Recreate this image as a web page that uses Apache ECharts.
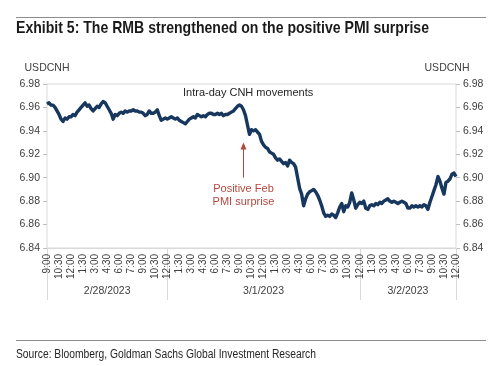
<!DOCTYPE html>
<html>
<head>
<meta charset="utf-8">
<script src="https://cdn.jsdelivr.net/npm/echarts@6/dist/echarts.min.js"></script>
<style>
html,body{margin:0;padding:0;background:#fff;}
#c{width:500px;height:366px;}
</style>
</head>
<body>
<div id="c"></div>
<script>
// 15-minute USDCNH quotes, 2/28/2023 9:00 to 3/2/2023 12:00 (one row per 1.5 hours)
const usdcnh = [
  6.963, 6.964, 6.962, 6.962, 6.960, 6.957,
  6.954, 6.950, 6.948, 6.951, 6.950, 6.952,
  6.952, 6.954, 6.953, 6.956, 6.958, 6.960,
  6.962, 6.964, 6.961, 6.962, 6.959, 6.957,
  6.959, 6.961, 6.960, 6.963, 6.965, 6.964,
  6.961, 6.958, 6.955, 6.950, 6.954, 6.953,
  6.955, 6.956, 6.955, 6.957, 6.956, 6.957,
  6.957, 6.958, 6.957, 6.957, 6.956, 6.956,
  6.955, 6.953, 6.954, 6.957, 6.955, 6.955,
  6.956, 6.958, 6.953, 6.949, 6.950, 6.951,
  6.950, 6.951, 6.952, 6.951, 6.950, 6.951,
  6.949, 6.948, 6.947, 6.946, 6.948, 6.950,
  6.951, 6.952, 6.951, 6.954, 6.953, 6.952,
  6.953, 6.952, 6.954, 6.955, 6.955, 6.954,
  6.954, 6.955, 6.954, 6.955, 6.953, 6.954,
  6.954, 6.955, 6.956, 6.957, 6.959, 6.961,
  6.962, 6.961, 6.958, 6.953, 6.945, 6.937,
  6.941, 6.940, 6.941, 6.939, 6.937, 6.931,
  6.928, 6.926, 6.925, 6.922, 6.921, 6.920,
  6.917, 6.915, 6.916, 6.914, 6.912, 6.913,
  6.910, 6.915, 6.913, 6.912, 6.909, 6.900,
  6.891, 6.886, 6.876, 6.882, 6.886, 6.888,
  6.889, 6.890, 6.888, 6.885, 6.881, 6.876,
  6.870, 6.867, 6.868, 6.867, 6.869, 6.868,
  6.866, 6.870, 6.875, 6.878, 6.871, 6.876,
  6.875, 6.879, 6.887, 6.881, 6.874, 6.877,
  6.879, 6.878, 6.880, 6.874, 6.873, 6.876,
  6.877, 6.876, 6.878, 6.877, 6.879, 6.878,
  6.880, 6.881, 6.882, 6.880, 6.879, 6.880,
  6.879, 6.878, 6.879, 6.880, 6.879, 6.878,
  6.874, 6.874, 6.876, 6.875, 6.876, 6.875,
  6.876, 6.875, 6.877, 6.876, 6.873, 6.879,
  6.884, 6.889, 6.894, 6.901, 6.897, 6.891,
  6.886, 6.896, 6.897, 6.899, 6.903, 6.904,
  6.901
];
const tickLabels = ['9:00','10:30','12:00','1:30','3:00','4:30','6:00','7:30','9:00','10:30',
  '12:00','1:30','3:00','4:30','6:00','7:30','9:00','10:30','12:00','1:30','3:00','4:30','6:00','7:30','9:00','10:30',
  '12:00','1:30','3:00','4:30','6:00','7:30','9:00','10:30','12:00'];
const dayLabels = ['2/28/2023','3/1/2023','3/2/2023'];
const dayBounds = [0, 60, 156, 204]; // category indices where days start/end
const pmiIndex = 98;                 // 3/1 9:30 release
const yTicks = [6.84, 6.86, 6.88, 6.90, 6.92, 6.94, 6.96, 6.98];

const titleText = 'Exhibit 5: The RMB strengthened on the positive PMI surprise';
const sourceText = 'Source: Bloomberg, Goldman Sachs Global Investment Research';

const categories = usdcnh.map((_, i) => 'p' + i);
const dayMids = dayLabels.map((_, k) => Math.round((dayBounds[k] + dayBounds[k + 1]) / 2));

const lab = '"Liberation Sans", Arial, sans-serif';
const axisTxt = '#404040';

// condensed look: shrink regular Arial-metric text horizontally to the reference width
const mctx = document.createElement('canvas').getContext('2d');
function squeeze(text, font, targetW) {
  mctx.font = font;
  return targetW / mctx.measureText(text).width;
}
const titleFont = 'bold 17px ' + lab;
const sourceFont = '12.5px ' + lab;
const titleScale = squeeze(titleText, titleFont, 413);
const sourceScale = squeeze(sourceText, sourceFont, 300);

const chart = echarts.init(document.getElementById('c'), null, {renderer: 'canvas'});
const yAxisBase = {
  type: 'value', min: yTicks[0], max: yTicks[yTicks.length - 1], interval: 0.02,
  axisLine: {show: false},
  axisTick: {show: true, length: 4, lineStyle: {color: '#bfbfbf'}},
  splitLine: {show: false},
  axisLabel: {color: axisTxt, fontFamily: lab, fontSize: 10.5, margin: 7, formatter: v => v.toFixed(2)}
};
chart.setOption({
  animation: false,
  grid: {left: 47, right: 44, top: 84, bottom: 118, show: true, borderColor: '#d9d9d9', borderWidth: 1},
  xAxis: [{
    type: 'category', data: categories, boundaryGap: false,
    axisLine: {show: true, lineStyle: {color: '#d9d9d9'}},
    axisTick: {show: true, length: 52, interval: (i) => dayBounds.includes(i), lineStyle: {color: '#d9d9d9'}},
    axisLabel: {interval: 5, rotate: 90, margin: 6, color: axisTxt, fontFamily: lab, fontSize: 10,
      formatter: (v, i) => tickLabels[Math.round(i / 6)]}
  }, {
    type: 'category', data: categories, boundaryGap: false, position: 'bottom', offset: 32,
    axisLine: {show: false}, axisTick: {show: false},
    axisLabel: {interval: (i) => dayMids.includes(i), color: axisTxt, fontFamily: lab, fontSize: 10.5, margin: 6,
      formatter: (v, i) => dayLabels[dayMids.indexOf(i)]}
  }],
  yAxis: [Object.assign({}, yAxisBase, {position: 'left'}), Object.assign({}, yAxisBase, {position: 'right'})],
  series: [{
    type: 'line', data: usdcnh, xAxisIndex: 0, yAxisIndex: 0,
    showSymbol: false, symbol: 'none',
    lineStyle: {color: '#17375e', width: 3.4, join: 'round'},
    markLine: {
      silent: true, symbol: ['none', 'triangle'], symbolSize: [6, 7],
      lineStyle: {color: '#b5473f', width: 1, type: 'solid'},
      label: {show: false},
      data: [[{coord: [pmiIndex, 6.900]}, {coord: [pmiIndex, 6.927]}]]
    },
    markPoint: {
      silent: true, symbol: 'rect', symbolSize: 1, itemStyle: {color: 'rgba(0,0,0,0)'},
      label: {show: true, position: 'inside', color: '#b5473f', fontFamily: lab, fontSize: 11, lineHeight: 13,
        formatter: 'Positive Feb\nPMI surprise'},
      data: [{coord: [pmiIndex, 6.885]}]
    }
  }],
  graphic: [
    {type: 'line', shape: {x1: 16, y1: 17.5, x2: 486, y2: 17.5}, style: {stroke: '#8c8c8c', lineWidth: 1}},
    {type: 'text', x: 16, y: 28, scaleX: titleScale, style: {text: titleText, x: 0, y: 0,
      font: titleFont, fill: '#1a1a1a', verticalAlign: 'middle'}},
    {type: 'text', x: 47, y: 68.5, style: {text: 'USDCNH', font: '10.5px ' + lab, fill: axisTxt, align: 'center', verticalAlign: 'middle'}},
    {type: 'text', x: 447, y: 68.5, style: {text: 'USDCNH', font: '10.5px ' + lab, fill: axisTxt, align: 'center', verticalAlign: 'middle'}},
    {type: 'text', x: 183, y: 93, style: {text: 'Intra-day CNH movements', font: '11px ' + lab, fill: '#262626', verticalAlign: 'middle'}},
    {type: 'line', shape: {x1: 16, y1: 340.5, x2: 486, y2: 340.5}, style: {stroke: '#8c8c8c', lineWidth: 1}},
    {type: 'text', x: 16, y: 355, scaleX: sourceScale, style: {text: sourceText, x: 0, y: 0,
      font: sourceFont, fill: '#262626', verticalAlign: 'middle'}}
  ]
});
</script>
</body>
</html>
